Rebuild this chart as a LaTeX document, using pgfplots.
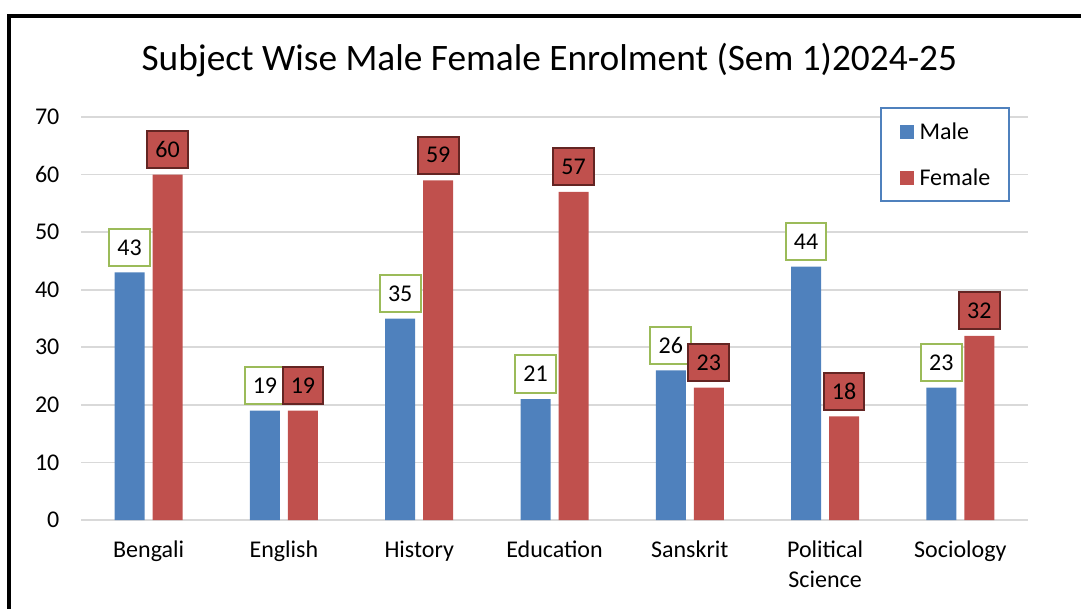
\documentclass[border=0pt]{standalone}
\usepackage{pgfplots}
\pgfplotsset{compat=1.18}
\usepackage{fontspec}
\setmainfont{Carlito}
\definecolor{maleblue}{HTML}{4F81BD}
\definecolor{femalered}{HTML}{C0504D}
\definecolor{lblgreen}{HTML}{9BBB59}
\definecolor{lbldark}{HTML}{632523}
\definecolor{gridgray}{HTML}{D9D9D9}

\begin{document}
\begin{tikzpicture}
\useasboundingbox (0,0) rectangle (810.75pt,456pt);
\draw[line width=3pt] (7.1pt,-5pt) -- (7.1pt,444pt) -- (830pt,444pt);
\node[anchor=base, inner sep=0pt, font=\fontsize{28}{32}\selectfont] at (412pt,402.75pt)
  {Subject Wise Male Female Enrolment (Sem 1)2024-25};
\begin{axis}[
  scale only axis,
  width=710.25pt, height=302.25pt,
  at={(60.75pt,66pt)}, anchor=south west,
  xmin=-0.5, xmax=6.5,
  ymin=0, ymax=70,
  ytick={0,10,...,70},
  xtick={0,...,6},
  xticklabels={{\strut Bengali},{\strut English},{\strut History},{\strut Education},{\strut Sanskrit},{\strut Political\\Science},{\strut Sociology}},
  ybar=6pt, bar width=22.5pt,
  ymajorgrids, grid style={gridgray, line width=1.2pt},
  axis line style={draw=none},
  major tick length=0pt,
  /pgf/number format/assume math mode=true,
  tick label style={font=\fontsize{18}{22.5}\selectfont},
  yticklabel style={inner sep=0pt, xshift=-16pt},
  xticklabel style={inner sep=0pt, align=center, anchor=north, yshift=-12.5pt},
  legend style={
    at={(0.8437,1.0248)}, anchor=north west,
    draw=maleblue, line width=1.5pt, fill=white,
    font=\fontsize{18}{20}\selectfont,
    inner xsep=13.9pt, inner ysep=11.75pt,
    row sep=22.5pt,
    nodes={inner sep=0pt, text height=12pt, text depth=0pt},
    /tikz/every odd column/.append style={column sep=4.5pt},
  },
  legend cell align=left,
  legend image code/.code={\fill[#1, draw=none] (0pt,-5.25pt) rectangle (10.5pt,5.25pt);},
]
\addplot[fill=maleblue, draw=none,
  nodes near coords,
  every node near coord/.append style={draw=lblgreen, fill=white, line width=1.5pt,
    minimum width=30.5pt, minimum height=28pt, inner sep=0pt, anchor=south, yshift=4.1pt,
    font=\fontsize{18}{20}\selectfont, text=black}]
  coordinates {(0,43) (1,19) (2,35) (3,21) (4,26) (5,44) (6,23)};
\addplot[fill=femalered, draw=none,
  nodes near coords,
  every node near coord/.append style={draw=lbldark, fill=femalered, line width=1.5pt,
    minimum width=30.5pt, minimum height=28pt, inner sep=0pt, anchor=south, yshift=4.1pt,
    font=\fontsize{18}{20}\selectfont, text=black}]
  coordinates {(0,60) (1,19) (2,59) (3,57) (4,23) (5,18) (6,32)};
\legend{Male, Female}
\end{axis}
\end{tikzpicture}
\end{document}
